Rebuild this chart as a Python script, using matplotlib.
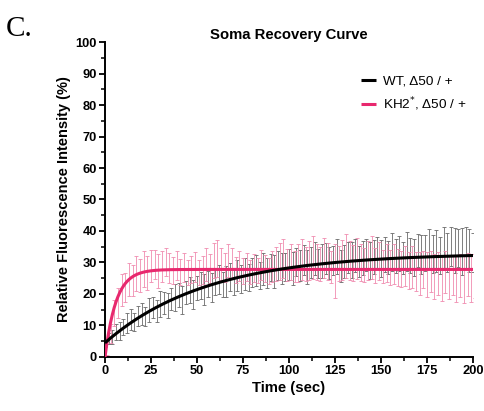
import numpy as np
import matplotlib
matplotlib.use("Agg")
import matplotlib.pyplot as plt
from matplotlib.ticker import MultipleLocator

plt.rcParams['font.family'] = ['Liberation Sans', 'DejaVu Sans']

# Sampling times (s)
time_s = list(range(0, 201, 2))

# WT, Δ50/+ : mean and SEM of relative fluorescence (%)
wt_mean = [
    4.5, 5.8, 6.4, 7.9, 8.3, 9.6, 10.8, 11.9, 11.2, 13.0,
    13.6, 12.8, 14.9, 15.7, 14.6, 16.8, 17.1, 16.3, 18.4, 18.9,
    19.6, 18.2, 20.4, 21.3, 19.9, 21.9, 22.6, 21.4, 23.2, 22.1,
    23.8, 24.6, 22.9, 24.1, 25.3, 23.7, 25.9, 24.8, 26.4, 25.2,
    26.7, 27.5, 25.8, 27.9, 26.6, 28.4, 27.2, 29.1, 28.0, 28.6,
    29.4, 28.1, 30.2, 29.0, 30.8, 28.7, 30.1, 31.3, 29.6, 30.5,
    31.2, 29.8, 30.6, 31.9, 28.9, 30.4, 31.6, 30.9, 32.2, 30.3,
    31.5, 32.4, 30.7, 31.8, 33.0, 31.2, 32.6, 31.7, 33.3, 32.1,
    32.8, 31.4, 33.5, 32.2, 31.6, 33.9, 32.5, 33.1, 34.2, 32.7,
    33.6, 32.3, 34.4, 33.2, 35.1, 33.8, 34.6, 33.4, 34.9, 33.9,
    33.3,
]
wt_sem = [
    1.2, 1.8, 2.2, 2.5, 2.9, 2.6, 3.1, 3.4, 2.8, 3.3,
    3.6, 3.0, 3.8, 3.2, 3.5, 4.1, 3.4, 3.9, 3.6, 4.2,
    3.8, 4.4, 3.7, 4.0, 4.6, 3.9, 4.3, 4.8, 4.1, 4.5,
    4.2, 4.7, 4.0, 4.9, 4.4, 4.1, 4.8, 4.5, 5.0, 4.3,
    4.6, 4.9, 4.2, 5.1, 4.7, 4.4, 5.2, 4.6, 4.9, 4.5,
    4.8, 5.3, 4.5, 5.0, 4.7, 5.4, 4.9, 5.2, 4.6, 5.5,
    4.9, 5.1, 4.7, 5.6, 5.0, 5.3, 4.8, 5.7, 5.2, 4.9,
    5.4, 5.0, 5.8, 5.3, 5.1, 5.9, 5.5, 5.2, 6.0, 5.4,
    5.6, 5.2, 6.1, 5.5, 5.8, 5.3, 6.2, 5.7, 6.4, 5.9,
    6.6, 5.8, 6.9, 6.2, 6.3, 7.1, 6.0, 7.4, 6.5, 6.8,
    6.2,
]

# KH2*, Δ50/+ : mean and SEM of relative fluorescence (%)
kh2_mean = [
    0.0, 7.6, 13.9, 17.1, 21.2, 22.0, 24.6, 24.3, 26.5, 25.8,
    27.9, 26.6, 28.8, 29.4, 27.3, 28.7, 30.1, 28.2, 27.6, 29.0,
    27.1, 28.4, 26.8, 27.9, 28.6, 26.9, 27.7, 29.3, 28.1, 30.6,
    31.2, 29.4, 28.3, 30.7, 29.8, 27.6, 28.9, 27.4, 28.5, 27.0,
    28.2, 27.5, 29.1, 28.0, 27.3, 28.8, 29.6, 30.4, 31.3, 29.2,
    30.1, 28.7, 29.9, 31.0, 29.4, 30.5, 31.6, 30.2, 29.5, 31.4,
    30.3, 28.6, 27.2, 29.7, 30.9, 32.1, 30.6, 29.8, 31.2, 30.0,
    29.3, 30.7, 31.5, 29.1, 30.4, 28.8, 29.9, 28.3, 29.6, 28.5,
    27.9, 28.9, 27.4, 28.6, 27.1, 26.5, 27.8, 26.2, 27.0, 25.6,
    26.4, 25.1, 26.9, 25.3, 26.1, 24.8, 25.9, 24.5, 26.2, 25.0,
    25.7,
]
kh2_sem = [
    0.5, 3.0, 4.2, 4.8, 5.1, 4.6, 5.3, 4.9, 5.6, 5.2,
    5.8, 5.4, 5.1, 4.7, 5.5, 4.9, 4.4, 4.8, 4.3, 4.6,
    4.1, 4.5, 3.9, 4.3, 4.7, 4.0, 4.4, 5.2, 4.6, 5.5,
    5.8, 5.1, 4.6, 5.3, 4.9, 4.2, 4.7, 4.1, 4.5, 3.9,
    4.4, 4.0, 4.8, 4.3, 4.1, 5.0, 5.4, 5.9, 6.3, 5.1,
    5.7, 5.0, 6.1, 6.6, 5.4, 6.2, 6.9, 5.8, 5.3, 6.4,
    5.9, 5.2, 8.6, 5.6, 6.3, 7.0, 6.1, 5.7, 6.5, 5.8,
    5.4, 6.2, 6.8, 5.5, 6.0, 5.3, 6.1, 5.6, 6.4, 5.9,
    5.7, 6.3, 5.9, 6.6, 6.2, 6.8, 6.0, 7.1, 6.5, 7.2,
    6.8, 7.4, 6.6, 7.0, 6.4, 7.3, 6.7, 7.5, 6.9, 7.6,
    6.9,
]

# One-phase association fit parameters: (Y0, plateau, K [1/s])
wt_fit = (4.5, 33.0, 0.018)
kh2_fit = (0.0, 27.8, 0.166)

series_labels = ["WT, Δ50 / +", "KH2$^{*}$, Δ50 / +"]
line_colors = ["#000000", "#e8286e"]
bar_colors = ["#6a6a6a", "#f08cb0"]


def one_phase(t, y0, plateau, k):
    return y0 + (plateau - y0) * (1.0 - np.exp(-k * t))


fig = plt.figure(figsize=(4.85, 4.11), dpi=100)
ax = fig.add_axes([0.2165, 0.1314, 0.7588, 0.7664])

t = np.asarray(time_s, dtype=float)
ax.errorbar(t, wt_mean, yerr=wt_sem, fmt='none', ecolor=bar_colors[0],
            elinewidth=0.6, capsize=1.2, capthick=0.6, zorder=2)
ax.errorbar(t + 1, kh2_mean, yerr=kh2_sem, fmt='none', ecolor=bar_colors[1],
            elinewidth=0.6, capsize=1.2, capthick=0.6, zorder=2)

tf = np.linspace(0, 200, 801)
ax.plot(tf, one_phase(tf, *wt_fit), color=line_colors[0], lw=2.2,
        label=series_labels[0], zorder=4, solid_capstyle='butt')
ax.plot(tf, one_phase(tf, *kh2_fit), color=line_colors[1], lw=2.2,
        label=series_labels[1], zorder=3, solid_capstyle='butt')

ax.set_xlim(0, 200)
ax.set_ylim(0, 100)
ax.xaxis.set_major_locator(MultipleLocator(25))
ax.xaxis.set_minor_locator(MultipleLocator(12.5))
ax.yaxis.set_major_locator(MultipleLocator(10))
ax.yaxis.set_minor_locator(MultipleLocator(5))

for side in ('top', 'right'):
    ax.spines[side].set_visible(False)
for side in ('left', 'bottom'):
    ax.spines[side].set_linewidth(1.4)
ax.tick_params(which='major', direction='out', length=4.5, width=1.3,
               labelsize=9.3, pad=1.5)
ax.tick_params(which='minor', direction='out', length=2.8, width=1.1)
for lbl in ax.get_xticklabels() + ax.get_yticklabels():
    lbl.set_fontweight('bold')

ax.set_xlabel("Time (sec)", fontsize=10.7, fontweight='bold', labelpad=3)
ax.set_ylabel("Relative Fluorescence Intensity (%)", fontsize=10.5,
              fontweight='bold', labelpad=3)
ax.set_title("Soma Recovery Curve", fontsize=10.7, fontweight='bold', pad=0)

leg = fig.legend(loc='upper left', bbox_to_anchor=(0.745, 0.817),
                 frameon=False, fontsize=9.7, handlelength=1.1,
                 handletextpad=0.5, labelspacing=0.55, borderpad=0,
                 borderaxespad=0)
for line in leg.get_lines():
    line.set_linewidth(2.2)

fig.text(0.012, 0.962, "C.", family='Liberation Serif', fontsize=21,
         va='top', ha='left')

fig.savefig("out.png", dpi=100)
